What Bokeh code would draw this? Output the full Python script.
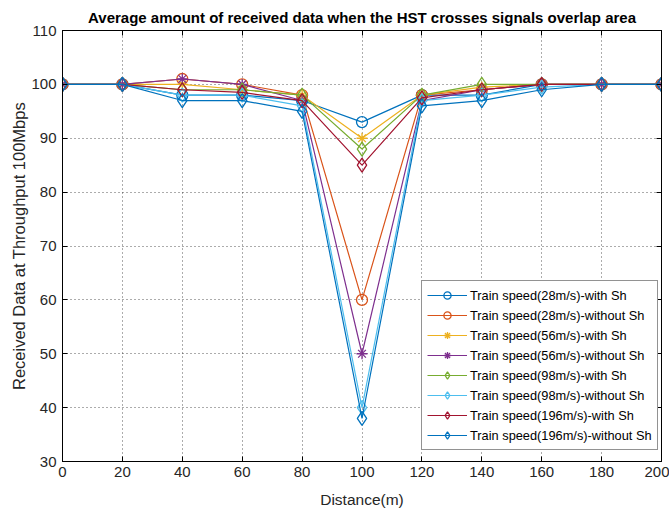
from bokeh.plotting import figure
from bokeh.models import LinearAxis, Legend, LegendItem, FixedTicker, Range1d
from bokeh.embed import file_html
from bokeh.resources import INLINE

distance = [0, 20, 40, 60, 80, 100, 120, 140, 160, 180, 200]

s28_with = [100, 100, 98, 98, 97, 93, 98, 98, 100, 100, 100]
s28_without = [100, 100, 101, 100, 98, 60, 98, 99, 100, 100, 100]
s56_with = [100, 100, 100, 99, 98, 90, 98, 99.5, 100, 100, 100]
s56_without = [100, 100, 101, 100, 97, 50, 97, 99, 100, 100, 100]
s98_with = [100, 100, 99, 99, 98, 88, 98, 100, 100, 100, 100]
s98_without = [100, 100, 98, 98, 96, 40, 97, 98, 99.5, 100, 100]
s196_with = [100, 100, 99, 98.5, 97, 85, 97.5, 99, 100, 100, 100]
s196_without = [100, 100, 97, 97, 95, 38, 96, 97, 99, 100, 100]

labels = [
    "Train speed(28m/s)-with Sh",
    "Train speed(28m/s)-without Sh",
    "Train speed(56m/s)-with Sh",
    "Train speed(56m/s)-without Sh",
    "Train speed(98m/s)-with Sh",
    "Train speed(98m/s)-without Sh",
    "Train speed(196m/s)-with Sh",
    "Train speed(196m/s)-without Sh",
]
series = [s28_with, s28_without, s56_with, s56_without,
          s98_with, s98_without, s196_with, s196_without]
colors = ["#0072BD", "#D95319", "#EDB120", "#7E2F8E",
          "#77AC30", "#4DBEEE", "#A2142F", "#0072BD"]
markers = ["circle", "circle", "asterisk", "asterisk",
           "diamond", "diamond", "diamond", "diamond"]
sizes = [11, 11, 11, 11, 14, 14, 14, 14]

FONT = "Liberation Sans"

p = figure(width=669, height=514, output_backend="svg", toolbar_location=None,
           x_range=Range1d(0, 200), y_range=Range1d(30, 110),
           min_border_left=62, min_border_right=8, min_border_top=30,
           min_border_bottom=53)

p.title.text = "Average amount of received data when the HST crosses signals overlap area"
p.title.align = "center"
p.title.text_font = FONT
p.title.text_font_size = "15px"
p.title.text_font_style = "bold"
p.title.text_color = "#000000"

p.outline_line_color = "black"
p.outline_line_width = 1
p.outline_line_alpha = 1

xt = FixedTicker(ticks=list(range(0, 201, 20)))
yt = FixedTicker(ticks=list(range(30, 111, 10)))
p.xaxis.ticker = xt
p.yaxis.ticker = yt
p.xgrid.ticker = xt
p.ygrid.ticker = yt
for g in (p.xgrid, p.ygrid):
    g.grid_line_color = "#222222"
    g.grid_line_alpha = 0.75
    g.grid_line_dash = "1 3"
    g.grid_line_width = 1

for ax in (p.xaxis, p.yaxis):
    ax.major_tick_in = 5
    ax.major_tick_out = 0
    ax.minor_tick_line_color = None
    ax.axis_line_color = "black"
    ax.major_tick_line_color = "black"
    ax.major_label_text_font = FONT
    ax.major_label_text_font_size = "15px"
    ax.major_label_text_color = "#262626"
    ax.axis_label_text_font = FONT
    ax.axis_label_text_font_style = "normal"
    ax.axis_label_text_color = "#262626"

p.xaxis.axis_label = "Distance(m)"
p.yaxis.axis_label = "Received Data at Throughput 100Mbps"
p.xaxis.axis_label_text_font_size = "15.5px"
p.yaxis.axis_label_text_font_size = "16.5px"
p.xaxis.major_label_standoff = 5
p.yaxis.major_label_standoff = 6
p.xaxis.axis_label_standoff = 11
p.yaxis.axis_label_standoff = 0

ra = LinearAxis(ticker=yt, major_label_text_font_size="0px",
                major_label_text_color=None, major_tick_in=5,
                major_tick_out=0, minor_tick_line_color=None)
ta = LinearAxis(ticker=xt, major_label_text_font_size="0px",
                major_label_text_color=None, major_tick_in=5,
                major_tick_out=0, minor_tick_line_color=None)
p.add_layout(ra, "right")
p.add_layout(ta, "above")

items = []
for ys, c, m, s, lab in zip(series, colors, markers, sizes, labels):
    ln = p.line(distance, ys, line_color=c, line_width=1.2)
    sc = p.scatter(distance, ys, marker=m, size=s, line_color=c,
                   fill_color=None, line_width=1.3)
    items.append(LegendItem(label=lab, renderers=[ln, sc]))

legend = Legend(items=items, location=(359, 11))
legend.label_text_font = FONT
legend.label_text_font_size = "12.8px"
legend.label_text_color = "#000000"
legend.border_line_color = "#262626"
legend.border_line_width = 1
legend.background_fill_color = "white"
legend.background_fill_alpha = 1
legend.glyph_width = 40
legend.glyph_height = 18
legend.label_height = 18
legend.spacing = 2
legend.padding = 5
legend.margin = 0
legend.label_standoff = 3
p.add_layout(legend, "center")

open("out.html", "w").write(file_html(p, INLINE))
